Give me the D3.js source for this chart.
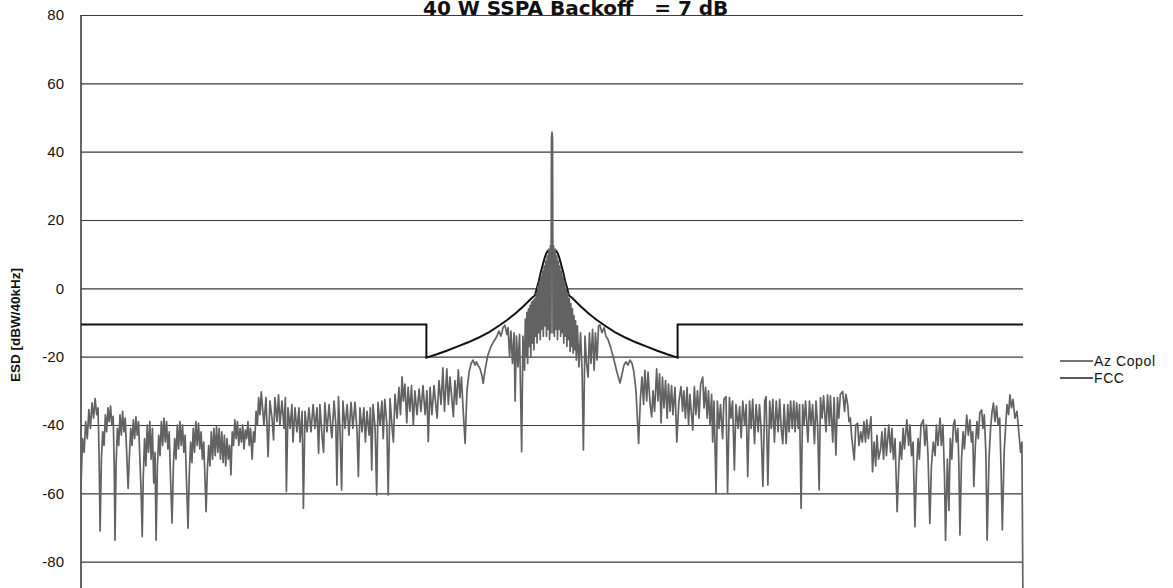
<!DOCTYPE html>
<html><head><meta charset="utf-8">
<script src="https://cdn.jsdelivr.net/npm/d3@7"></script>
<style>html,body{margin:0;padding:0;background:#fff;overflow:hidden}</style>
</head><body><svg id="c" width="1173" height="588"></svg>
<script>
const chartTitle = "40 W SSPA Backoff   = 7 dB";
const yLabel = "ESD [dBW/40kHz]";
const yTicks = [80, 60, 40, 20, 0, -20, -40, -60, -80];
const seriesNames = ["Az Copol", "FCC"];

// Az Copol pattern: [off-axis angle (deg), ESD (dBW/40kHz)]
const azCopol = [
[-180,-58],[-179.4,-44],[-178.8,-48],[-178.2,-39],[-177.6,-44],[-177,-35.5],[-176.4,-41],[-175.8,-33.5],[-175.2,-38],[-174.6,-32.3],[-174,-37],[-173.5,-35],[-173.1,-48],[-172.7,-71],
[-172.2,-50],[-171.7,-42],[-171.2,-46],[-170.7,-37],[-170.2,-42],[-169.7,-35],[-169.2,-39],[-168.7,-34.5],[-168.2,-40],[-167.7,-37.5],[-167.3,-52],[-167,-73.7],
[-166.6,-52],[-166.1,-41],[-165.6,-46],[-165.1,-37],[-164.6,-43],[-164.1,-36],[-163.6,-42],[-163.1,-38],[-162.6,-47],[-162,-58.6],
[-161.5,-49],[-161,-41],[-160.5,-46],[-160,-38.5],[-159.5,-44],[-159,-37.6],[-158.5,-43],[-158,-39],[-157.5,-50],[-157,-60],[-156.6,-72.7],
[-156.2,-55],[-155.7,-44],[-155.2,-52],[-154.7,-40],[-154.2,-48],[-153.7,-39],[-153.2,-50],[-152.7,-41],[-152.2,-57],[-151.7,-48],[-151.3,-73.7],
[-150.8,-52],[-150.3,-43],[-149.8,-49],[-149.3,-39],[-148.8,-46],[-148.3,-38],[-147.8,-45],[-147.3,-39],[-146.8,-47],[-146.3,-42],[-145.8,-55],[-145.2,-68.7],
[-144.7,-52],[-144.2,-44],[-143.7,-50],[-143.2,-40],[-142.7,-47],[-142.2,-39],[-141.7,-46],[-141.2,-40],[-140.7,-48],[-140.2,-43],[-139.7,-56],[-139.1,-70.2],
[-138.6,-54],[-138.1,-45],[-137.6,-51],[-137.1,-41],[-136.6,-48],[-136.1,-39],[-135.6,-46],[-135.1,-39.5],[-134.6,-47],[-134.1,-42],[-133.6,-50],[-133.1,-45],[-132.6,-56],[-132.2,-65.4],
[-131.7,-53],[-131.2,-46],[-130.7,-52],[-130.2,-42],[-129.7,-50],[-129.2,-41],[-128.7,-49],[-128.2,-40.5],[-127.7,-48],[-127.2,-41],[-126.7,-50],[-126.2,-42],[-125.7,-51],[-125.2,-43],[-124.7,-52],[-124.2,-44],[-123.7,-50],[-123.2,-46],[-122.7,-54.6],
[-122.2,-42],[-121.7,-46],[-121.2,-38.5],[-120.7,-44],[-120.2,-39],[-119.7,-46],[-119.2,-41],[-118.7,-45],[-118.2,-40],[-117.7,-47],[-117.2,-41.5],[-116.7,-44],[-116.2,-39],[-115.7,-46],[-115.2,-41],[-114.6,-50],
[-114.1,-42],[-113.6,-45],[-113.1,-36],[-112.6,-40],[-112.1,-32],[-111.6,-37],[-111.1,-30.3],
[-110.1,-40],[-109.3,-32],[-108.5,-49.3],[-107.8,-33],[-107.0,-38],[-106.4,-44.4],[-105.9,-32],[-105.1,-39],[-104.5,-31.2],[-104.0,-40],[-103.2,-33],[-102.4,-41],[-101.9,-32],[-101.5,-59.5],[-100.9,-35],[-100.1,-41],[-99.4,-34],[-99.0,-45],[-98.2,-35],[-97.5,-42],[-96.7,-35],[-96.3,-45],[-95.5,-36],[-95.0,-64.4],[-94.4,-36],[-93.6,-42],[-92.9,-35],[-92.1,-42],[-91.3,-34],[-90.6,-41],[-89.8,-35],[-89.2,-48.3],[-88.7,-34],[-87.9,-43],[-87.3,-48],[-86.8,-33.5],[-86.0,-42],[-85.2,-34],[-84.5,-41],[-84.1,-43.7],[-83.3,-33],[-82.6,-40],[-82.2,-57.6],[-81.6,-31.7],[-81.0,-42],[-80.4,-59],[-79.9,-33],[-79.1,-41],[-78.3,-34],[-77.6,-43],[-76.8,-33.4],[-76.1,-41],[-75.3,-33.4],[-74.5,-42],[-74.0,-55.1],[-73.4,-35],[-72.6,-42],[-71.9,-35],[-71.3,-45],[-70.7,-36],[-69.9,-43],[-69.4,-35],[-68.9,-53.2],[-68.4,-34],[-67.6,-41],[-67.0,-60.5],[-66.5,-33.4],[-65.7,-40],[-65.0,-33],[-64.5,-44],[-63.9,-32.5],[-63.1,-40],[-62.6,-60.5],[-61.9,-32.3],[-61.1,-41],[-60.6,-45],[-60.0,-31],[-59.2,-38],[-58.5,-29],[-57.9,-37],[-57.3,-25.9],[-56.8,-33],[-56.2,-28],[-55.5,-39.4],[-55.0,-29],[-54.3,-36],[-53.7,-28.5],[-53.0,-40],[-52.4,-30],[-51.6,-37],[-50.8,-29.5],[-50.1,-36],[-49.3,-28.5],[-48.5,-37],[-47.8,-30],[-47.3,-44.9],
[-46.6,-29],[-45.9,-37],[-45.1,-28.5],[-44.3,-35],[-43.9,-38],[-43.2,-27],[-42.4,-34],[-41.7,-23.3],[-41.1,-36],[-40.2,-23.6],[-39.6,-34],[-39.0,-26],[-38.2,-33],[-37.7,-37.6],[-37.1,-27],[-36.5,-34],[-35.8,-23.9],[-35.2,-32],[-34.6,-26],[-34.0,-35],[-33.2,-45.4],
[-32.5,-30],[-31.7,-24.5],[-30.9,-22],[-30.2,-21],[-29.4,-22.5],[-28.9,-21.5],[-28.3,-22.5],[-27.5,-23.5],[-26.8,-25.5],[-26.3,-27.8],
[-25.6,-24],[-24.5,-19.5],[-23.3,-17],[-22.2,-15.5],[-21.1,-14.1],[-20.3,-12.5],[-19.5,-14],[-18.7,-11.5],[-18.0,-10.8],[-17.2,-13.5],[-16.8,-11.5],
[-16.2,-20],[-15.7,-12.5],[-15.1,-22],[-14.5,-13],[-14.1,-33],[-13.6,-14],[-13.0,-23],[-12.4,-13.5],[-11.6,-47.8],[-11.1,-14],[-10.5,-24],
[-10.2,-9],[-9.9,-20],[-9.6,-7],[-9.3,-22],[-9.0,-6],[-8.7,-17],[-8.4,-5],[-8.1,-20],[-7.8,-4],[-7.5,-16],[-7.2,-3.5],[-6.9,-18],[-6.6,-3],[-6.3,-14],[-6.0,-1.5],[-5.7,-16],[-5.4,0.5],[-5.1,-13],[-4.8,2],[-4.5,-15],[-4.2,3.5],[-3.9,-12],[-3.6,5],[-3.3,-14],[-3.0,6.5],[-2.7,-11],[-2.4,8],[-2.1,-14],[-1.8,9.5],[-1.5,-12],[-1.2,11.5],[-0.9,-15],[-0.6,12.5],[-0.4,-13],[-0.2,44],[0,45.7],[0.2,44],[0.4,-13],[0.6,12.5],[0.9,-14],[1.2,11.5],[1.5,-12],[1.8,9.5],[2.1,-15],[2.4,8],[2.7,-12],[3.0,6.5],[3.3,-14],[3.6,5],[3.9,-13],[4.2,3.5],[4.5,-16],[4.8,2],[5.1,-14],[5.4,0],[5.7,-17],[6.0,-1.5],[6.3,-15],[6.6,-3],[6.9,-18.5],[7.2,-4.5],[7.5,-17],[7.8,-6],[8.1,-19],[8.4,-8],[8.7,-18],[9.0,-9.5],[9.3,-21],[9.7,-11],
[10.3,-23],[10.9,-13],[11.5,-24],[12.0,-47.3],[12.6,-14],[13.2,-22],[13.8,-26],[14.3,-13],[14.9,-22],[15.5,-12],[16.1,-24],[16.6,-13],[17.2,-21],[17.8,-11],[18.3,-10.7],[19.1,-13],[19.9,-11.5],[20.6,-14],[21.4,-15],[22.5,-17.5],[23.7,-21],[24.8,-24.5],[26.0,-27.7],
[26.8,-25],[27.5,-22.5],[28.3,-21.5],[29.0,-22.5],[29.8,-21],[30.6,-22],[31.3,-24.5],[32.1,-30],[33.1,-45.4],
[33.8,-32],[34.4,-26],[35.0,-34],[35.5,-24],[36.2,-33],[36.7,-24.5],[37.5,-34],[38.1,-37.6],[38.6,-30],[39.2,-36],[40.0,-23.6],[40.5,-33],[41.1,-25],[41.7,-39.4],[42.2,-26],[42.8,-35],[43.4,-27],[44.0,-38],[44.5,-28],[45.1,-36],[45.7,-28.5],[46.2,-37],[47.0,-29],[47.7,-45],
[48.5,-33],[49.3,-28.8],[49.9,-36],[50.4,-30],[51.0,-38],[51.6,-29],[52.2,-40],[52.7,-31],[53.8,-41.5],[54.4,-28.8],[55.0,-37],[55.6,-30],[56.2,-38],[56.8,-28],[57.6,-26],[58.1,-35],[58.7,-29],[59.3,-38],[59.8,-30],[60.4,-40],[61.0,-31],[61.4,-45],[61.9,-33],[62.7,-60],[63.2,-33],[63.8,-41],[64.4,-34],[65.2,-44],[65.7,-32.5],[66.5,-31.7],[67.1,-60],[67.8,-32],[68.4,-38],[69.0,-33],[69.7,-53.2],[70.3,-34],[71.1,-41],[71.7,-34.6],[72.3,-43.7],[72.9,-33],[73.6,-40],[74.2,-34],[74.8,-55.1],[75.5,-33],[76.1,-41],[76.7,-32.5],[77.4,-45.5],[78.0,-34],[78.8,-42],[79.3,-34],[79.9,-41],[80.6,-58],[81.3,-33],[81.8,-31.7],[82.5,-57.6],[83.2,-33],[83.8,-41],[84.4,-32.5],[85.0,-45],[85.7,-33],[86.4,-42],[87.0,-32.5],[87.6,-41],[88.2,-45.5],[88.7,-34],[89.5,-45.5],[90.1,-34],[90.6,-42],[91.2,-33],[91.8,-41],[92.4,-33],[92.9,-42],[93.5,-33.5],[94.1,-41],[94.6,-34],[95.2,-64.4],[95.8,-34],[96.3,-40],[96.9,-33],[97.8,-45],[98.4,-33],[99.0,-40],[99.6,-34],[100.3,-45.5],[100.9,-33],[101.5,-40],[102.1,-59],[102.6,-32],[103.2,-38],[103.8,-31.5],[104.7,-42],[105.3,-31.2],[106.0,-40],[106.4,-31.5],[107.3,-45],[107.8,-32],[108.5,-48.8],[109.1,-32],[109.6,-38],[110.2,-31],[111.1,-30.2],[111.8,-36],[112.3,-31],[113.0,-34],[113.5,-39],
[114.0,-38],[114.6,-44],[115.5,-50.2],[116.1,-40],[116.8,-39.5],[117.3,-46],[118.0,-42],[118.6,-45],[119.2,-39],[119.8,-45],[120.3,-38.5],[120.9,-44],[121.9,-37.6],[122.5,-53.7],
[123.1,-45],[123.7,-52],[124.2,-43],[124.8,-50],[125.6,-47],[126.1,-42],[126.7,-50],[127.3,-41],[127.8,-49],[128.7,-40],[129.4,-48],[129.9,-41],[130.5,-50],[131.1,-44],[131.9,-65.4],
[132.5,-53],[133.0,-45],[133.6,-50],[134.2,-41],[134.7,-47],[135.6,-38.5],[136.3,-46],[136.8,-40],[137.4,-49],[138.0,-45],[138.7,-69.8],
[139.3,-53],[139.9,-44],[140.4,-50],[141.0,-40],[141.9,-38.5],[142.5,-46],[143.1,-40],[143.7,-49],[144.4,-68.8],
[145.0,-52],[145.7,-45],[146.4,-49],[146.9,-40],[147.5,-46],[148.3,-38],[148.8,-46],[149.4,-40],[150.0,-55],[150.4,-73.7],
[151.1,-50],[151.7,-65],[152.2,-44],[152.8,-50],[153.4,-40],[153.9,-38.5],[154.5,-45],[155.1,-41],[155.5,-52],[155.9,-72.2],
[156.5,-50],[157.1,-42],[157.6,-47],[158.5,-37.1],[159.1,-43],[159.7,-38.5],[160.3,-45],[160.8,-42],[161.2,-58],
[161.8,-46],[162.4,-39],[162.9,-44],[163.5,-36.5],[164.2,-35.6],[164.7,-41],[165.2,-37],[165.8,-48],[166.3,-73.7],
[167.0,-50],[167.6,-41],[168.2,-36],[168.7,-33.6],[169.3,-39],[169.9,-34.5],[170.5,-40],[171.1,-38],[171.6,-52],[172.1,-70.7],
[172.8,-48],[173.4,-40],[173.9,-34],[174.5,-37],[175.0,-31.2],[175.6,-35],[176.2,-32.5],[176.9,-38],[177.7,-36],[178.5,-43],[179.1,-48],[179.6,-45],[180,-95]
];

// FCC off-axis ESD mask: [angle (deg), dBW/40kHz]
const fccMask = [
[-180,-10.6],[-48,-10.6],[-48,-20.3],[-44,-19.3],[-40,-18.2],[-36,-17.0],[-32,-15.8],[-28,-14.4],[-24,-12.8],[-20,-10.8],[-17,-9.2],[-14,-7.4],[-11,-5.3],[-9,-3.8],[-7.5,-2.7],[-6.5,-2.1],[-5.8,0],[-5,2.2],[-4.3,4.6],[-3.5,7.0],[-2.8,8.9],[-2.2,10.2],[-1.6,11],[0,11.5],
[1.6,11],[2.2,10.2],[2.8,8.9],[3.5,7.0],[4.3,4.6],[5,2.2],[5.8,0],[6.5,-2.1],[7.5,-2.7],[9,-3.8],[11,-5.3],[14,-7.4],[17,-9.2],[20,-10.8],[24,-12.8],[28,-14.4],[32,-15.8],[36,-17.0],[40,-18.2],[44,-19.3],[48,-20.3],[48,-10.6],[180,-10.6]
];

const svg = d3.select("#c");
const W = 1173, H = 588;
const m = {left: 81, right: 1023, top: 15, bottom: 595.8};
const x = d3.scaleLinear().domain([-180, 180]).range([m.left, m.right]);
const y = d3.scaleLinear().domain([-90, 80]).range([m.bottom, m.top]);

svg.append("rect").attr("width", W).attr("height", H).attr("fill", "#fff");

// gridlines + tick labels
const yAxis = d3.axisLeft(y).tickValues(yTicks).tickSize(-(m.right - m.left)).tickPadding(17).tickFormat(d3.format("d"));
const gy = svg.append("g").attr("transform", `translate(${m.left},0)`).call(yAxis);
gy.select(".domain").remove();
gy.selectAll(".tick line").attr("stroke", "#3a3a3a").attr("stroke-width", 1.2);
gy.selectAll(".tick text")
  .attr("font-family", "'Liberation Sans', Arial, sans-serif")
  .attr("font-size", 15).attr("fill", "#111").attr("x", -17)
  .text(d => d < 0 ? "-" + Math.abs(d) : d);

// left axis line
svg.append("line").attr("x1", m.left).attr("x2", m.left).attr("y1", m.top).attr("y2", H)
  .attr("stroke", "#333").attr("stroke-width", 1.5);

svg.append("clipPath").attr("id", "plotclip").append("rect")
  .attr("x", m.left).attr("y", 0).attr("width", m.right - m.left + 2).attr("height", H);

const line = d3.line().x(d => x(d[0])).y(d => y(d[1]));
const plot = svg.append("g").attr("clip-path", "url(#plotclip)");
plot.append("path").datum(fccMask).attr("d", line)
  .attr("fill", "none").attr("stroke", "#111").attr("stroke-width", 2);
plot.append("path").datum(azCopol).attr("d", line)
  .attr("fill", "none").attr("stroke", "#626262").attr("stroke-width", 1.7).attr("stroke-linejoin", "round");

// title
svg.append("text").attr("x", 423).attr("y", 15)
  .attr("font-family", "'DejaVu Sans', Verdana, sans-serif").attr("font-weight", "bold")
  .attr("font-size", 20).attr("fill", "#111").style("white-space", "pre")
  .text(chartTitle);

// y label
svg.append("text").attr("transform", "translate(20,325) rotate(-90)")
  .attr("text-anchor", "middle")
  .attr("font-family", "'Liberation Sans', Arial, sans-serif").attr("font-weight", "bold")
  .attr("font-size", 13.5).attr("fill", "#111").text(yLabel);

// legend
const legY = [361, 378];
const legColors = ["#444", "#222"];
const lg = svg.append("g");
seriesNames.forEach((n, i) => {
  lg.append("line").attr("x1", 1060).attr("x2", 1093).attr("y1", legY[i]).attr("y2", legY[i])
    .attr("stroke", legColors[i]).attr("stroke-width", 1.5);
  lg.append("text").attr("x", 1094).attr("y", legY[i]).attr("dy", "0.35em")
    .attr("font-family", "'Liberation Sans Narrow', 'Liberation Sans', Arial, sans-serif")
    .attr("font-size", 14).attr("letter-spacing", 0.6).attr("fill", "#111").text(n);
});
</script></body></html>
